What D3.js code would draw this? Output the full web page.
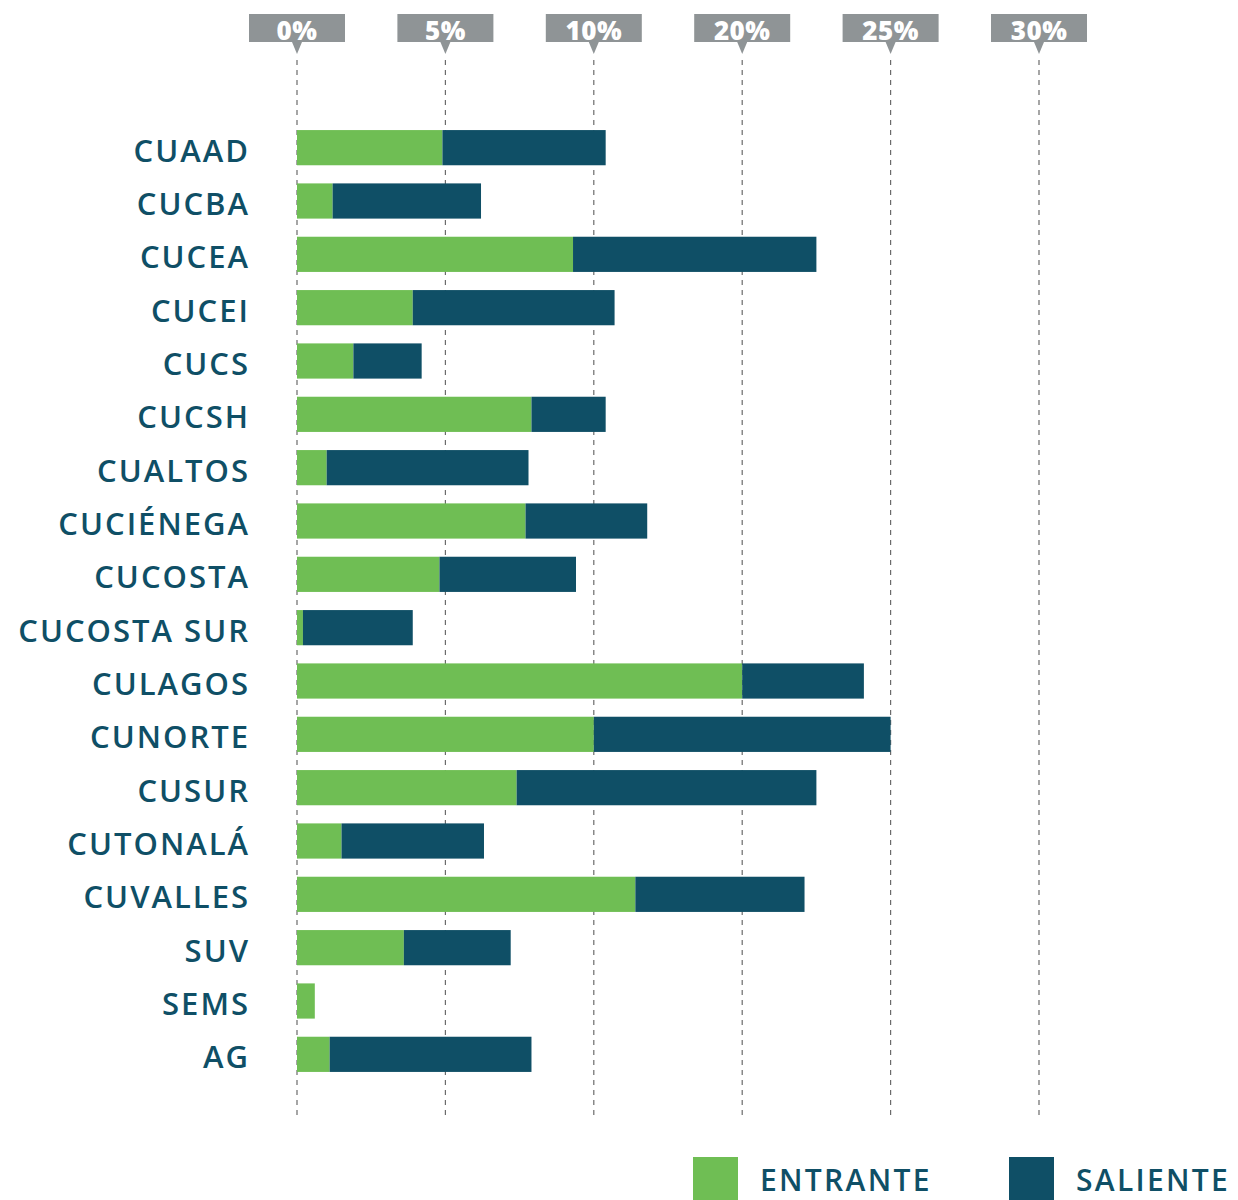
<!DOCTYPE html>
<html>
<head>
<meta charset="utf-8">
<script src="https://cdn.jsdelivr.net/npm/d3@7"></script>
<style>
  body { margin: 0; background: #fff; }
  text { font-family: "Open Sans", "DejaVu Sans", sans-serif; }
</style>
</head>
<body>
<svg id="chart"></svg>
<script>
const centros = ["CUAAD", "CUCBA", "CUCEA", "CUCEI", "CUCS", "CUCSH", "CUALTOS", "CUCIÉNEGA",
  "CUCOSTA", "CUCOSTA SUR", "CULAGOS", "CUNORTE", "CUSUR", "CUTONALÁ", "CUVALLES", "SUV", "SEMS", "AG"];
const entrante = [4.9, 1.2, 9.3, 3.9, 1.9, 7.9, 1.0, 7.7, 4.8, 0.2, 15.0, 10.0, 7.4, 1.5, 11.4, 3.6, 0.6, 1.1];
const saliente = [5.5, 5.0, 8.2, 6.8, 2.3, 2.5, 6.8, 4.1, 4.6, 3.7, 4.1, 10.0, 10.1, 4.8, 5.7, 3.6, 0.0, 6.8];
const tickValues = [0, 5, 10, 15, 20, 25];
const tickLabels = ["0%", "5%", "10%", "20%", "25%", "30%"];
const series = ["ENTRANTE", "SALIENTE"];

const width = 1238, height = 1200;
const green = "#6fbe54", teal = "#0f4f66";

const svg = d3.select("#chart")
  .attr("width", width)
  .attr("height", height);

const x = d3.scaleLinear().domain([0, 25]).range([297, 1039]);
const y = d3.scaleBand().domain(centros).range([121, 1081]).paddingInner(0.34).paddingOuter(0.17);

const rows = centros.map((c, i) => ({ name: c, ent: entrante[i], sal: saliente[i] }));

// gridlines
svg.append("g")
  .selectAll("line")
  .data(tickValues)
  .join("line")
    .attr("x1", d => x(d)).attr("x2", d => x(d))
    .attr("y1", 60).attr("y2", 1115)
    .attr("stroke", "#6b6b6b")
    .attr("stroke-width", 1.2)
    .attr("stroke-dasharray", "5,5");

// tick boxes at the top
const tick = svg.append("g")
  .selectAll("g")
  .data(tickValues)
  .join("g")
    .attr("transform", d => `translate(${x(d)},0)`);
tick.append("rect")
  .attr("x", -48).attr("y", 14)
  .attr("width", 96).attr("height", 28)
  .attr("fill", "#8f9496");
tick.append("path")
  .attr("d", "M-5,42 L5,42 L0,54 Z")
  .attr("fill", "#8f9496");
tick.append("text")
  .attr("x", 0).attr("y", 40)
  .attr("text-anchor", "middle")
  .attr("fill", "#fff")
  .attr("font-size", 26)
  .attr("font-weight", 800)
  .attr("letter-spacing", 0.5)
  .text((d, i) => tickLabels[i]);

// bars
const bars = svg.append("g");
bars.selectAll("rect.ent")
  .data(rows)
  .join("rect")
    .attr("class", "ent")
    .attr("x", x(0))
    .attr("y", d => y(d.name))
    .attr("width", d => x(d.ent) - x(0))
    .attr("height", y.bandwidth())
    .attr("fill", green);
bars.selectAll("rect.sal")
  .data(rows)
  .join("rect")
    .attr("class", "sal")
    .attr("x", d => x(d.ent))
    .attr("y", d => y(d.name))
    .attr("width", d => x(d.ent + d.sal) - x(d.ent))
    .attr("height", y.bandwidth())
    .attr("fill", teal);

// category labels
svg.append("g")
  .selectAll("text")
  .data(centros)
  .join("text")
    .attr("x", 250)
    .attr("y", d => y(d) + y.bandwidth() / 2 + 14)
    .attr("text-anchor", "end")
    .attr("fill", teal)
    .attr("font-size", 31)
    .attr("font-weight", 600)
    .attr("letter-spacing", 2)
    .text(d => d);

// legend
const legend = svg.append("g")
  .selectAll("g")
  .data(series)
  .join("g")
    .attr("transform", (d, i) => `translate(${693 + i * 316},1157)`);
legend.append("rect")
  .attr("width", 45).attr("height", 45)
  .attr("fill", (d, i) => i === 0 ? green : teal);
legend.append("text")
  .attr("x", 67).attr("y", 34)
  .attr("fill", teal)
  .attr("font-size", 30)
  .attr("font-weight", 600)
  .attr("letter-spacing", 2.3)
  .text(d => d);
</script>
</body>
</html>
